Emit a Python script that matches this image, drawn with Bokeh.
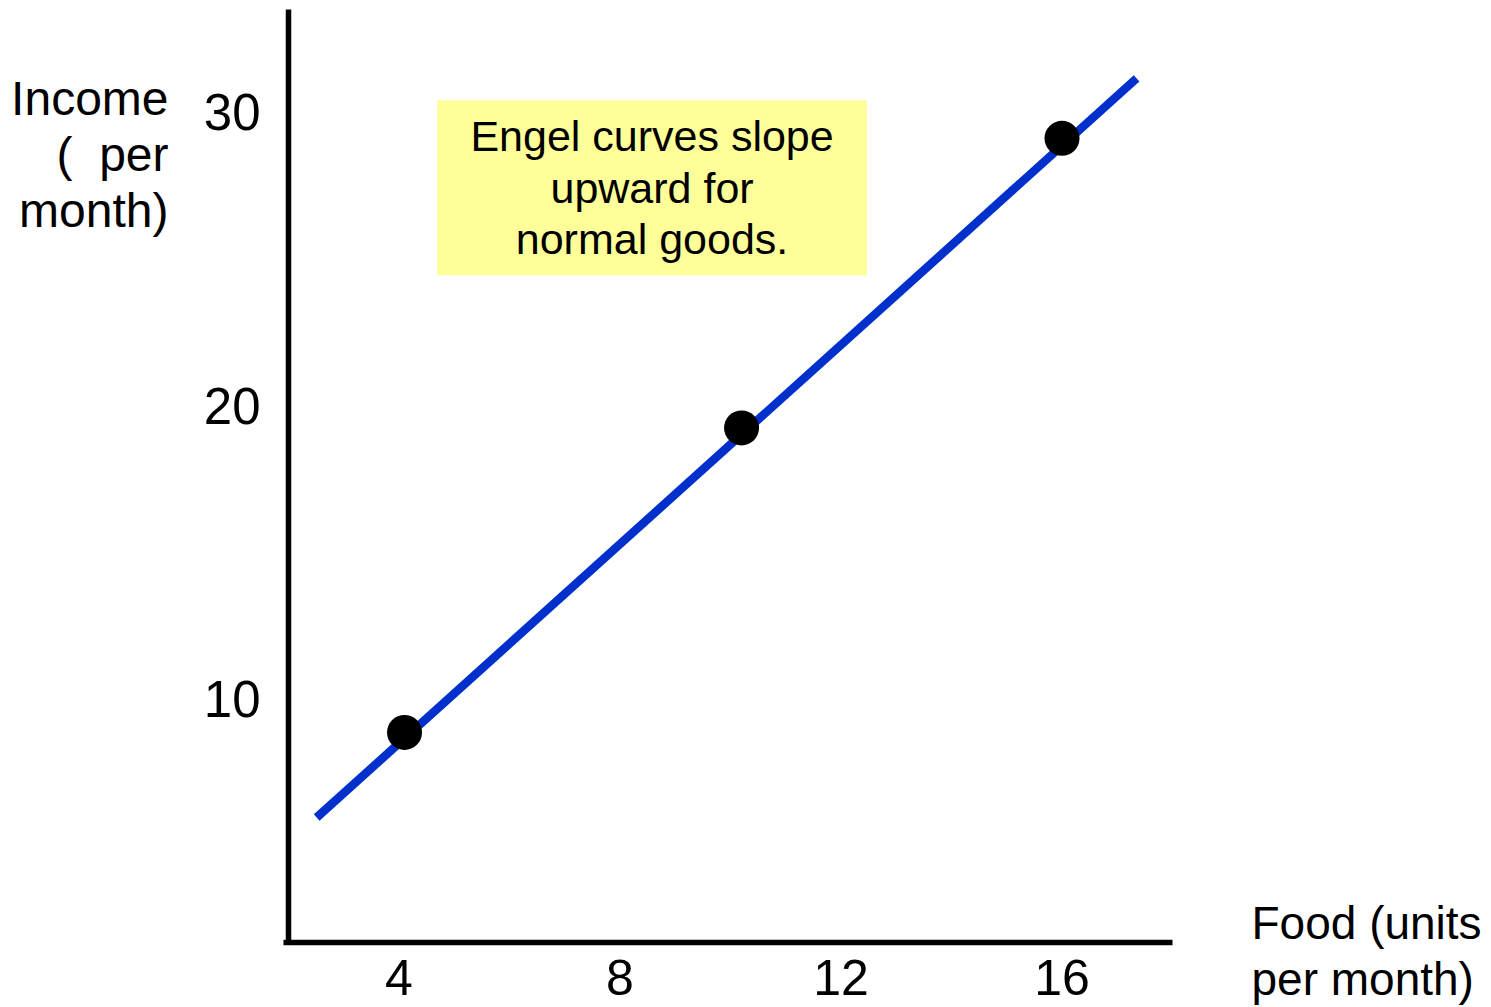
from bokeh.plotting import figure
from bokeh.models import Range1d, FixedTicker, Label
from bokeh.embed import file_html
from bokeh.resources import INLINE

# Engel curve: food bought (units per month) at three income levels
food = [4.1, 10.2, 16.0]
income = [8.86, 19.24, 29.11]

# end points of the drawn curve
curve_food = [2.51, 17.35]
curve_income = [5.96, 31.15]

food_ticks = [4, 8, 12, 16]
income_ticks = [10, 20, 30]

FONT = "Liberation Sans"
W, H = 1491, 1007

# The frame fills the whole canvas; the axes sit at fixed data locations
# so that the titles and labels can be placed freely around them.
p = figure(width=W, height=H,
           x_range=Range1d(-3.2127, 23.7738), y_range=Range1d(-0.5154, 33.8068),
           output_backend="svg", toolbar_location=None, min_border=0)
p.outline_line_color = None
p.grid.visible = False
p.background_fill_color = "white"
p.border_fill_color = "white"

for ax in (p.xaxis[0], p.yaxis[0]):
    ax.axis_line_width = 5.5
    ax.axis_line_color = "black"
    ax.major_tick_line_color = None
    ax.minor_tick_line_color = None
    ax.major_tick_out = 0
    ax.major_tick_in = 0
    ax.major_label_text_font = FONT
    ax.major_label_text_color = "black"

p.xaxis.fixed_location = 1.7
p.xaxis.bounds = (1.91, 18)
p.xaxis.ticker = FixedTicker(ticks=food_ticks)
p.xaxis.major_label_standoff = 17
p.xaxis.major_label_text_font_size = "50px"

p.yaxis.fixed_location = 2
p.yaxis.bounds = (1.62, 33.5)
p.yaxis.ticker = FixedTicker(ticks=income_ticks)
p.yaxis.major_label_standoff = 28
p.yaxis.major_label_text_font_size = "51px"

# note box
p.quad(left=4.69, right=12.47, bottom=24.44, top=30.41,
       fill_color="#FFFF99", line_color=None)
p.add_layout(Label(x=8.58, y=27.42, text="Engel curves slope\nupward for\nnormal goods.",
                   text_align="center", text_baseline="middle",
                   text_font=FONT, text_font_size="43px", text_line_height=1.075,
                   text_color="black"))

# the Engel curve and its points
p.line(curve_food, curve_income, line_color="#0030CC", line_width=8.5)
p.scatter(food, income, size=35, fill_color="black", line_color=None)

# axis titles, in pixels from the lower-left corner
p.add_layout(Label(x=168, y=H - 71, x_units="screen", y_units="screen",
                   text="Income\n(\u00a0 per\nmonth)", text_align="right", text_baseline="top",
                   text_font=FONT, text_font_size="48px", text_line_height=1.06,
                   text_color="black"))
p.add_layout(Label(x=1251, y=H - 896, x_units="screen", y_units="screen",
                   text="Food (units\nper month)", text_align="left", text_baseline="top",
                   text_font=FONT, text_font_size="46px", text_line_height=1.08,
                   text_color="black"))

open("out.html", "w").write(file_html(p, INLINE))
